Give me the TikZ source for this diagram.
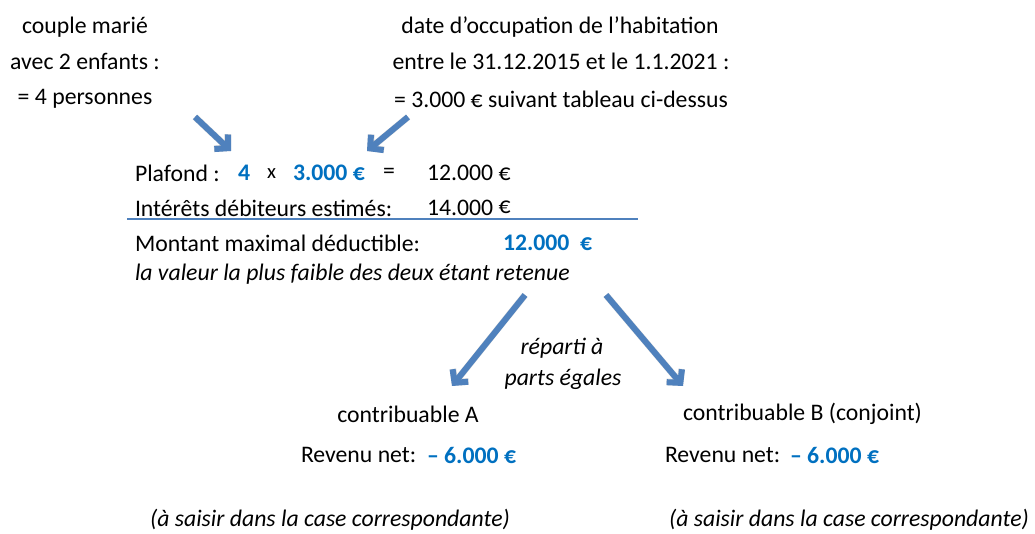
\documentclass[tikz,border=0pt]{standalone}
\usepackage{fontspec}
\setmainfont{Carlito}
\usetikzlibrary{arrows.meta}
\definecolor{arrblue}{HTML}{4F81BD}
\definecolor{txtblue}{HTML}{0070C0}
\begin{document}
\begin{tikzpicture}[x=0.75pt,y=-0.75pt,
  every node/.style={inner sep=0pt,outer sep=0pt,font=\fontsize{17.8}{21}\selectfont},
  txt/.style={anchor=west},
  ctxt/.style={anchor=center},
  hl/.style={text=txtblue,font=\fontsize{17.8}{21}\selectfont\bfseries},
  it/.style={font=\fontsize{17.8}{21}\selectfont\itshape},
  small/.style={font=\fontsize{15.5}{18}\selectfont},
  bigarrow/.style={draw=arrblue,line width=4.5pt,-{Straight Barb[length=7pt,width=15pt]},line cap=butt},
  arrowshadow/.style={draw=black,opacity=0.15,line width=5pt,-{Straight Barb[length=7pt,width=15pt]},line cap=butt,shift={(2,3)}}]
\useasboundingbox (0,0) rectangle (1035,534);
% top left
\node[ctxt] (t1) at (85,27) {couple marié};
\node[ctxt] (t2) at (85,61) {avec 2 enfants :};
\node[ctxt] (t3) at (85,99) {= 4 personnes};
% top right
\node[ctxt] (r1) at (560,27) {date d’occupation de l’habitation};
\node[ctxt] (r2) at (561,61) {entre le 31.12.2015 et le 1.1.2021 :};
\node[ctxt] (r3) at (561,99) {= 3.000 € suivant tableau ci-dessus};
% calculation
\node[txt] (pl) at (135,173) {Plafond :};
\node[txt,hl] (n4) at (238,173) {4};
\node[txt,small] (x) at (267,174) {x};
\node[txt,hl] (n3) at (293,173) {3.000 €};
\node[txt] (eq) at (383,173) {=};
\node[txt] (v12) at (427,173) {12.000 €};
\node[txt] (it1) at (135,208) {Intérêts débiteurs estimés:};
\node[txt] (v14) at (427,208) {14.000 \raisebox{1.5pt}{€}};
\coordinate (l1) at (127,219);
\coordinate (l2) at (638,219);
\draw[draw=arrblue,line width=1.1pt] (l1) -- (l2);
\node[txt] (mm) at (135,243) {Montant maximal déductible:};
\node[txt,hl] (vmax) at (503,243) {12.000~~€};
\node[txt,it] (val) at (135,274) {la valeur la plus faible des deux étant retenue};
% split
\node[ctxt,it] (rep1) at (562,348) {réparti à};
\node[ctxt,it] (rep2) at (563,379) {parts égales};
\node[ctxt] (ca) at (408,414) {contribuable A};
\node[txt] (cb) at (683,414) {contribuable B (conjoint)};
\node[txt] (rna) at (301,455) {Revenu net:};
\node[txt,hl] (va) at (427,455) {– 6.000 €};
\node[txt] (rnb) at (665,455) {Revenu net:};
\node[txt,hl] (vb) at (790,455) {– 6.000 €};
\node[ctxt,it] (sa) at (330,520) {(à saisir dans la case correspondante)};
\node[ctxt,it] (sb) at (849,520) {(à saisir dans la case correspondante)};
% arrows
\coordinate (a1s) at (195,117);
\coordinate (a1e) at (231,151);
\coordinate (a2s) at (408,117);
\coordinate (a2e) at (367,151);
\coordinate (a3s) at (525,295);
\coordinate (a3e) at (452,386);
\coordinate (a4s) at (606,295);
\coordinate (a4e) at (683,386);
\draw[arrowshadow] (a1s) -- (a1e);
\draw[arrowshadow] (a2s) -- (a2e);
\draw[arrowshadow] (a3s) -- (a3e);
\draw[arrowshadow] (a4s) -- (a4e);
\draw[bigarrow] (a1s) -- (a1e);
\draw[bigarrow] (a2s) -- (a2e);
\draw[bigarrow] (a3s) -- (a3e);
\draw[bigarrow] (a4s) -- (a4e);
\end{tikzpicture}
\end{document}
